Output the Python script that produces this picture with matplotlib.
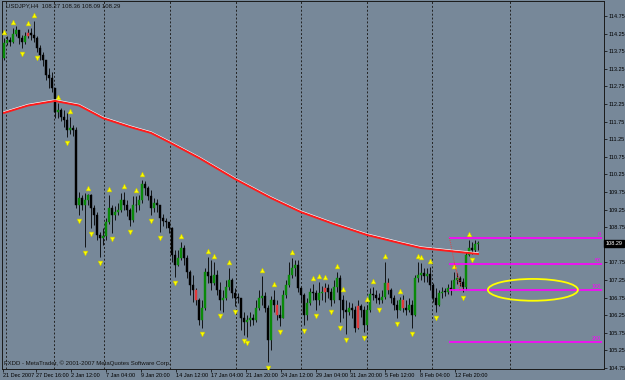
import matplotlib
matplotlib.use("Agg")
import matplotlib.pyplot as plt
import numpy as np
from matplotlib.patches import Ellipse

# USDJPY H4 candles, open = previous close
first_open = 113.56
closes = [
    113.98, 114.07, 114.01, 114.24, 114.35, 114.13, 114.01, 114.18, 114.27, 114.21,
    114.13, 113.84, 113.64, 113.50, 113.07, 112.99, 112.70, 112.02, 112.08, 111.88,
    111.80, 111.51, 111.57, 111.51, 109.38, 109.58, 109.38, 109.52, 109.67, 109.30,
    109.10, 108.53, 108.44, 108.50, 108.90, 109.30, 109.10, 109.18, 109.24, 109.52,
    109.38, 109.24, 108.96, 109.38, 109.38, 109.52, 109.98, 109.87, 109.64, 109.30,
    109.44, 109.38, 109.01, 108.93, 108.90, 108.73, 107.96, 107.68, 107.88, 108.16,
    107.88, 107.48, 107.11, 106.97, 106.68, 106.11, 106.45, 107.48, 107.37, 107.17,
    107.39, 106.97, 106.68, 106.74, 107.05, 107.25, 106.88, 106.74, 106.74, 106.17,
    106.06, 106.11, 106.17, 106.11, 106.45, 106.74, 106.80, 106.45, 105.55, 106.68,
    106.54, 106.26, 106.17, 106.82, 107.11, 107.39, 107.59, 107.68, 107.02, 106.82,
    106.26, 106.60, 106.91, 106.88, 106.68, 106.88, 106.91, 107.02, 106.91, 106.68,
    107.05, 107.31, 106.68, 106.40, 106.34, 106.45, 106.40, 105.89, 106.51, 106.40,
    105.97, 106.40, 106.85, 106.82, 106.74, 106.68, 106.77, 107.17, 106.97, 106.74,
    106.54, 106.40, 106.68, 106.45, 106.40, 106.54, 106.26, 107.31, 107.39, 107.45,
    107.37, 107.42, 107.11, 106.74, 106.54, 106.88, 106.91, 106.91, 107.02, 106.97,
    107.25, 107.31, 107.19, 107.05, 107.96, 108.16, 108.10, 108.27, 108.29,
]
highs = [
    114.13, 114.18, 114.15, 114.41, 114.47, 114.35, 114.21, 114.30, 114.38, 114.41,
    114.61, 114.18, 113.93, 113.73, 113.50, 113.27, 113.16, 112.70, 112.28, 112.14,
    112.08, 111.99, 111.88, 111.65, 111.60, 109.75, 109.67, 109.72, 109.69, 109.70,
    109.38, 109.18, 108.61, 108.73, 109.01, 109.67, 109.38, 109.35, 109.44, 109.72,
    109.75, 109.52, 109.30, 109.64, 109.64, 109.67, 110.09, 110.06, 109.92, 109.81,
    109.58, 109.55, 109.38, 109.13, 109.01, 108.90, 108.76, 108.10, 108.10, 108.33,
    108.24, 107.96, 107.54, 107.39, 107.02, 106.74, 106.68, 107.59, 107.90, 107.82,
    107.76, 107.54, 107.19, 106.97, 107.25, 107.59, 107.31, 107.02, 106.88, 106.74,
    106.34, 106.26, 106.34, 106.28, 106.68, 106.97, 107.36, 106.91, 106.54, 106.80,
    106.97, 106.68, 106.54, 106.97, 107.25, 107.76, 107.88, 107.82, 107.82, 107.05,
    106.88, 106.74, 107.02, 107.14, 106.97, 107.19, 107.08, 107.17, 107.14, 107.02,
    107.25, 107.48, 107.39, 106.82, 106.68, 106.63, 106.60, 106.51, 106.68, 106.57,
    106.51, 106.54, 107.02, 107.05, 106.97, 106.88, 106.97, 107.76, 107.31, 107.02,
    106.82, 106.68, 106.77, 106.82, 106.68, 106.74, 106.68, 107.39, 107.76, 107.74,
    107.59, 107.59, 107.62, 107.17, 107.02, 106.97, 107.05, 107.02, 107.14, 107.25,
    107.48, 107.45, 107.36, 107.31, 108.05, 108.39, 108.33, 108.39, 108.36,
]
lows = [
    113.50, 113.93, 113.90, 113.98, 114.18, 113.96, 113.84, 113.96, 114.13, 114.07,
    114.01, 113.73, 113.50, 113.33, 112.93, 112.70, 112.59, 111.85, 111.85, 111.77,
    111.60, 111.31, 111.40, 111.34, 109.30, 109.10, 109.24, 108.19, 109.38, 108.73,
    108.81, 108.39, 107.90, 108.25, 108.39, 108.84, 108.59, 108.96, 109.10, 109.18,
    109.24, 109.07, 108.78, 108.90, 109.18, 109.24, 109.44, 109.67, 109.52, 109.10,
    109.18, 109.18, 108.61, 108.78, 108.73, 108.59, 107.76, 107.34, 107.65, 107.82,
    107.68, 107.31, 106.82, 106.63, 106.54, 105.97, 105.89, 106.40, 107.17, 106.97,
    107.11, 106.82, 106.40, 106.34, 106.68, 106.97, 106.74, 106.51, 106.60, 105.83,
    105.69, 105.64, 105.94, 105.97, 106.06, 106.40, 106.54, 106.34, 104.92, 105.26,
    106.34, 106.11, 105.94, 106.17, 106.74, 107.05, 107.31, 107.36, 106.91, 106.63,
    105.97, 106.11, 106.54, 106.68, 106.40, 106.54, 106.68, 106.63, 106.74, 106.51,
    106.60, 106.91, 106.06, 106.17, 105.72, 106.26, 106.17, 105.77, 105.85, 106.20,
    105.77, 105.83, 106.34, 106.68, 106.60, 106.57, 106.60, 106.70, 106.85, 106.60,
    106.40, 106.17, 106.40, 106.34, 106.26, 106.34, 105.89, 106.23, 107.19, 107.25,
    107.19, 107.19, 106.97, 106.63, 106.34, 106.51, 106.74, 106.80, 106.85, 106.82,
    106.97, 107.14, 107.08, 106.91, 106.97, 107.93, 107.99, 108.02, 108.09,
]
red_bars = [8, 64, 91, 107, 118, 128, 133]

# Bill Williams fractals (bar index)
up_fractals = [0, 3, 8, 10, 18, 22, 28, 35, 40, 44, 46, 59, 68, 70, 75, 86, 90, 96,
               103, 105, 107, 111, 113, 121, 123, 127, 132, 138, 139, 142, 150, 155]
down_fractals = [6, 11, 21, 25, 27, 29, 32, 36, 42, 49, 52, 57, 66, 72, 77, 80, 81,
                 88, 92, 100, 104, 109, 112, 114, 120, 125, 131, 136, 144, 153, 156]

# moving average (red line)
ma_bars = [0, 8, 17, 25, 33, 42, 49, 55, 65, 77, 89, 99, 110, 121, 132, 139, 149, 158]
ma_values = [112.00, 112.21, 112.34, 112.21, 111.85, 111.60, 111.43, 111.17, 110.72,
             110.12, 109.58, 109.18, 108.84, 108.53, 108.30, 108.16, 108.07, 107.99]

# Fibonacci expansion
fibo_levels = [108.44, 107.70, 106.97, 105.50]
fibo_labels = ["0", "50", "100", "200"]
fibo_start, fibo_end = 148.3, 199.3
fibo_trend_x = [(148.5, 152.0), (150.0, 153.0)]
fibo_trend_y = [(108.44, 106.95), (107.75, 106.95)]

# yellow ellipse: centre bar, centre price, width (bars), height (price)
ellipse_spec = (176.3, 106.97, 30.0, 0.62)

# weekly period separators (bar positions)
separators = [0.7, 16.7, 33.3, 55.3, 77.3, 99.0, 121.0, 142.7, 168.7]

xtick_pos = [-0.5, 10.7, 22.3, 34.0, 45.7, 57.3, 69.0, 80.7, 92.3, 104.0, 115.3,
             127.0, 138.7, 150.3]
xtick_labels = ["21 Dec 2007", "27 Dec 16:00", "2 Jan 12:00", "7 Jan 04:00",
                "9 Jan 20:00", "14 Jan 12:00", "17 Jan 04:00", "21 Jan 20:00",
                "24 Jan 12:00", "29 Jan 04:00", "31 Jan 20:00", "5 Feb 12:00",
                "8 Feb 04:00", "12 Feb 20:00"]
ytick_vals = [104.75 + 0.5 * k for k in range(21)]

header = "USDJPY,H4  108.27 108.36 108.09 108.29"
footer = "FXDD - MetaTrader, \u00a9 2001-2007 MetaQuotes Software Corp."
last_price = 108.29

BG = "#778899"
FS = 4.0
plt.rcParams["font.family"] = ["Liberation Sans", "DejaVu Sans"]

fig = plt.figure(figsize=(6.25, 3.8), dpi=100, facecolor=BG)
ax = fig.add_axes([2 / 625, 11 / 380, 602 / 625, 368 / 380], facecolor=BG)

x = np.arange(len(closes))
opens = np.array([first_open] + closes[:-1])
c = np.array(closes)

for s in separators:
    ax.axvline(s, color="#222222", lw=0.7, ls=(0, (2, 2)), zorder=1)

# candles
ax.vlines(x, lows, highs, color="black", lw=0.6, zorder=2)
body_lo = np.minimum(opens, c)
body_h = np.maximum(np.abs(c - opens), 0.015)
cols = []
for i in range(len(c)):
    if i in red_bars:
        cols.append("#e03a3a")
    elif c[i] > opens[i]:
        cols.append("#0a8a0a")
    else:
        cols.append("black")
ax.bar(x, body_h, bottom=body_lo, width=0.72, color=cols, edgecolor=cols,
       lw=0.3, zorder=3)

# fractal arrows
ax.plot(up_fractals, [highs[i] + 0.17 for i in up_fractals], ls="none",
        marker="^", ms=3.4, mfc="#ffff00", mec="#c8c800", mew=0.4, zorder=4)
ax.plot(down_fractals, [lows[i] - 0.17 for i in down_fractals], ls="none",
        marker="v", ms=3.4, mfc="#ffff00", mec="#c8c800", mew=0.4, zorder=4)

# moving average, red with a light edge
ax.plot(ma_bars, np.array(ma_values) + 0.03, color="white", lw=0.8, zorder=4)
ax.plot(ma_bars, ma_values, color="#ff1a1a", lw=1.4, zorder=5)

# fibo expansion
ax.hlines(fibo_levels, fibo_start, fibo_end, color="#ff00ff", lw=1.2, zorder=5)
for lev, lab in zip(fibo_levels, fibo_labels):
    ax.text(fibo_end - 0.3, lev + 0.03, lab, color="#ff00ff", fontsize=FS,
            ha="right", va="bottom", zorder=6)
for tx, ty in zip(fibo_trend_x, fibo_trend_y):
    ax.plot(tx, ty, color="#ff3030", lw=0.6, ls=(0, (1, 1.5)), zorder=5)

ex, ey, ew, eh = ellipse_spec
ax.add_patch(Ellipse((ex, ey), ew, eh, fill=False, edgecolor="#ffff00", lw=1.3,
                     zorder=6))

ax.set_xlim(-0.67, 200)
ax.set_ylim(104.72, 115.18)

# the price box covers the 108.25 label, as in the terminal
ax.yaxis.tick_right()
ax.set_yticks(ytick_vals)
ax.set_yticklabels(["" if abs(v - last_price) < 0.1 else f"{v:.2f}"
                    for v in ytick_vals])
ax.set_xticks(xtick_pos)
ax.set_xticklabels(xtick_labels, ha="left")
ax.tick_params(axis="both", length=2, width=0.5, labelsize=FS, colors="black",
               pad=1.0)
for sp in ax.spines.values():
    sp.set_color("#1a1a1a")
    sp.set_linewidth(0.7)

# current price box
ax.text(1.003, last_price, f"{last_price:.2f}", transform=ax.get_yaxis_transform(),
        ha="left", va="center", fontsize=FS, color="white", zorder=10,
        bbox=dict(boxstyle="square,pad=0.25", fc="black", ec="black"),
        clip_on=False)

ax.text(0.006, 0.993, header, transform=ax.transAxes, ha="left", va="top",
        fontsize=FS + 0.3, color="#111111")
ax.text(0.003, 0.008, footer, transform=ax.transAxes, ha="left", va="bottom",
        fontsize=FS + 0.3, color="#111111")

fig.savefig("out.png", dpi=100, facecolor=BG)
